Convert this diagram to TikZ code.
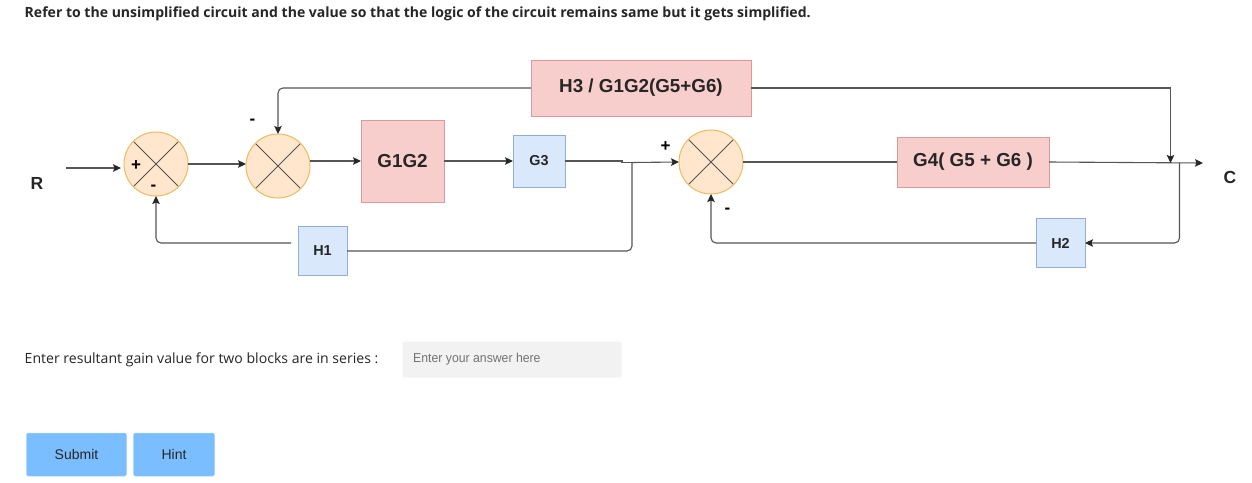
\documentclass[tikz,border=0pt]{standalone}
\usepackage{fontspec}
\setmainfont{Liberation Sans}
\newfontfamily\pagefont{Open Sans}
\usepackage{xcolor}
\usetikzlibrary{positioning,arrows.meta,calc}
\definecolor{gainpink}{HTML}{F8CECC}
\definecolor{gainred}{HTML}{DB9A98}
\definecolor{feedblue}{HTML}{DAE8FC}
\definecolor{feedline}{HTML}{8FAEDB}
\definecolor{sumfill}{HTML}{FFE6CC}
\definecolor{sumline}{HTML}{EBBB5E}
\definecolor{wiregray}{HTML}{555555}
\definecolor{btnblue}{HTML}{7ABEFF}
\definecolor{inputgray}{HTML}{F2F2F2}
\tikzset{
  gain/.style    = {rectangle, draw=gainred, fill=gainpink, line width=1pt, outer sep=0pt,
                    inner sep=0pt, align=center, font=\fontsize{18.8}{20}\selectfont\bfseries, text=black!85},
  feed/.style    = {rectangle, draw=feedline, fill=feedblue, line width=1pt, outer sep=0pt,
                    minimum width=49pt, minimum height=49pt, inner sep=0pt,
                    font=\fontsize{14.4}{16}\selectfont\bfseries, text=black!85},
  sumj/.style    = {circle, draw=sumline, fill=sumfill, line width=1pt, outer sep=0pt,
                    minimum size=64pt, inner sep=0pt,
                    path picture={
                      \draw[wiregray, line width=1pt]
                        (path picture bounding box.north west) -- (path picture bounding box.south east)
                        (path picture bounding box.south west) -- (path picture bounding box.north east);}},
  flow/.style    = {-{Stealth[length=8pt,width=7.5pt,inset=1.5pt,color=black!85]}, line width=1.1pt, draw=wiregray},
  wire/.style    = {line width=1.1pt, draw=wiregray},
  sign/.style    = {font=\fontsize{17}{17}\selectfont\bfseries, inner sep=0pt},
  port/.style    = {font=\fontsize{17.5}{18}\selectfont\bfseries, inner sep=0pt, text=black!85},
  btn/.style     = {rectangle, rounded corners=2pt, fill=btnblue, draw=btnblue!70!white, line width=0.5pt,
                    minimum height=43pt, inner sep=0pt, font=\fontsize{14}{16}\selectfont, text=black!85},
  pagetext/.style = {anchor=west, inner sep=0pt, text=black!85},
}
\begin{document}
\begin{tikzpicture}[x=1pt,y=1pt]
  \useasboundingbox (0,0) rectangle (1252,-482);
  % forward path
  \node[sumj] (sum1) at (156,-164) {};
  \node[sumj, right=58pt of sum1, yshift=-2pt] (sum2) {};
  \node[gain, minimum width=83pt, minimum height=82pt, right=51pt of sum2, yshift=5pt] (g1g2) {G1G2};
  \node[feed, minimum width=52pt, minimum height=52pt, right=69pt of g1g2] (g3) {G3};
  \node[sumj, right=114pt of g3, yshift=-1pt] (sum3) {};
  \node[gain, minimum width=152pt, minimum height=50pt, right=154pt of sum3] (g4) {G4( G5 + G6 )};
  % feedback blocks
  \node[gain, minimum width=220pt, minimum height=56pt] (h3) at (641,-88) {H3 / G1G2(G5+G6)};
  \node[feed] (h1) at (322.5,-251) {H1};
  \node[feed] (h2) at (1060.5,-243) {H2};
  % free ends and taps
  \coordinate (rin) at (66,-168);
  \coordinate (tapa) at (632,-162.5);
  \coordinate[left=10pt of tapa] (jog);
  \coordinate (h1out) at (291,-243);
  \coordinate (tapb) at (1179.5,-163);
  \coordinate (cout) at (1203,-163);
  \coordinate (meet) at (1170.5,-163);
  % connectors
  \draw[flow, shorten >=3pt] (rin) -- (rin -| sum1.west);
  \draw[flow] (sum1.east) -- (sum1.east -| sum2.west);
  \draw[flow] (sum2.east |- g1g2.west) -- (g1g2.west);
  \draw[flow] (g1g2.east) -- (g3.west);
  \draw[wire] (g3.east) -- (g3.east -| jog) -- (jog) -- (tapa);
  \draw[flow] (tapa) -- (sum3.west);
  \draw[wire] (sum3.east) -- (sum3.east -| g4.west);
  \draw[flow] (g4.east) -- (cout);
  \draw[wire, rounded corners=5pt] (tapa) |- (h1.east);
  \draw[flow, rounded corners=5pt] (h1out) -| (sum1.south);
  \draw[flow, rounded corners=5pt] (h3.west) -| (sum2.north);
  \draw[flow] (h3.east) -| (meet);
  \draw[flow, rounded corners=5pt] (tapb) |- (h2.east);
  \draw[flow, rounded corners=5pt] (h2.west) -| (sum3.south);
  % signs and ports
  \node[sign] (p1) at (136,-166) {+};
  \node[sign] (m1) at (153.5,-188) {-};
  \node[sign] (m2) at (252.5,-122) {-};
  \node[sign] (p3) at (665.5,-147) {+};
  \node[sign] (m3) at (727.5,-211) {-};
  \node[port] (rlabel) at (37,-183) {R};
  \node[port] (clabel) at (1230,-177) {C};
  % page around the diagram
  \node[pagetext, font=\pagefont\fontsize{14.05}{16}\selectfont\bfseries] (title) at (24.5,-14)
    {Refer to the unsimplified circuit and the value so that the logic of the circuit remains same but it gets simplified.};
  \node[pagetext, font=\pagefont\fontsize{14.08}{16}\selectfont] (ask) at (24.5,-359.5)
    {Enter resultant gain value for two blocks are in series :};
  \node[rectangle, rounded corners=2pt, fill=inputgray, minimum width=219pt, minimum height=36pt,
    inner sep=0pt, outer sep=0pt] (answer) at (512,-359.5) {};
  \node[pagetext, font=\fontsize{12.9}{14}\selectfont, text=black!55, xscale=0.95] (hold) at (413,-359.5) {Enter your answer here};
  \node[btn, minimum width=100pt] (submit) at (76.5,-454.5) {Submit};
  \node[btn, minimum width=81pt] (hint) at (174,-454.5) {Hint};
\end{tikzpicture}
\end{document}
